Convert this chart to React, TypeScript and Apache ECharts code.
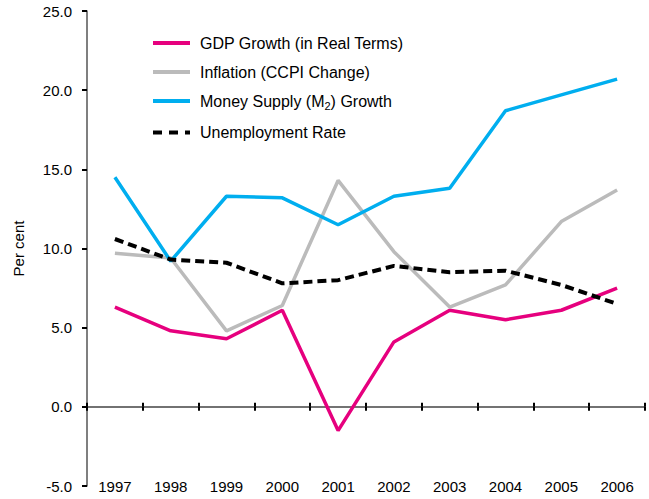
import React, { useEffect, useRef } from "react";
import * as echarts from "echarts";

const years = ["1997", "1998", "1999", "2000", "2001", "2002", "2003", "2004", "2005", "2006"];
const gdpGrowth = [6.3, 4.8, 4.3, 6.1, -1.5, 4.1, 6.1, 5.5, 6.1, 7.5];
const inflation = [9.7, 9.4, 4.8, 6.4, 14.3, 9.8, 6.3, 7.7, 11.7, 13.7];
const moneySupply = [14.5, 9.2, 13.3, 13.2, 11.5, 13.3, 13.8, 18.7, 19.7, 20.7];
const unemployment = [10.6, 9.3, 9.1, 7.8, 8.0, 8.9, 8.5, 8.6, 7.7, 6.5];

const seriesNames = [
  "GDP Growth (in Real Terms)",
  "Inflation (CCPI Change)",
  "Money Supply (M2) Growth",
  "Unemployment Rate",
];

const FONT = "'Liberation Sans', Arial, sans-serif";
const SOLID_ICON = "path://M0,0h37v4h-37z";
const DASH_ICON = "path://M0,0h9v4h-9z M16,0h9v4h-9z M32,0h5v4h-5z";

export default function App() {
  const ref = useRef<HTMLDivElement>(null);
  useEffect(() => {
    if (!ref.current) return;
    const chart = echarts.init(ref.current, undefined, { renderer: "svg" });
    const lineSeries = (name: string, data: number[], color: string, extra: any = {}) => ({
      name,
      type: "line",
      data,
      xAxisIndex: 0,
      symbol: "none",
      showSymbol: false,
      lineStyle: { color, width: 3.5, ...extra },
      itemStyle: { color },
      z: 3,
    });
    const tickStyle = { color: "#000", width: 2 };
    chart.setOption({
      animation: false,
      backgroundColor: "#ffffff",
      textStyle: { fontFamily: FONT },
      grid: { left: 87, right: 4, top: 11, bottom: 13, containLabel: false, outerBoundsMode: "none" },
      legend: {
        orient: "vertical",
        left: 148,
        top: 30,
        itemWidth: 37,
        itemHeight: 14,
        itemGap: 13,
        data: seriesNames.map((n, i) => ({ name: n, icon: i === 3 ? DASH_ICON : SOLID_ICON })),
        textStyle: {
          fontFamily: FONT,
          fontSize: 16,
          lineHeight: 16,
          color: "#000",
          padding: [0, 0, 0, 5],
          rich: {
            t: { fontFamily: FONT, fontSize: 16, color: "#000", lineHeight: 16 },
            s: { fontFamily: FONT, fontSize: 11, color: "#000", padding: [10, 0, 0, 0] },
          },
        },
        formatter: (name: string) =>
          name === "Money Supply (M2) Growth" ? "{t|Money Supply (M}{s|2}{t|) Growth}" : name,
      },
      xAxis: [
        {
          type: "category",
          data: years,
          boundaryGap: true,
          position: "bottom",
          axisLine: { show: false, onZero: false },
          axisTick: { show: false },
          axisLabel: { margin: 0, verticalAlign: "middle", fontSize: 15, color: "#000", fontFamily: FONT },
          splitLine: { show: false },
        },
        {
          type: "category",
          data: years,
          boundaryGap: true,
          position: "bottom",
          axisLine: { show: true, onZero: true, onZeroAxisIndex: 0, lineStyle: { color: "#444", width: 1.5 } },
          axisTick: { show: true, length: 4, lineStyle: tickStyle },
          axisLabel: { show: false },
          splitLine: { show: false },
        },
        {
          type: "category",
          data: years,
          boundaryGap: true,
          position: "top",
          axisLine: { show: false, onZero: true, onZeroAxisIndex: 0 },
          axisTick: { show: true, length: 4, lineStyle: tickStyle },
          axisLabel: { show: false },
          splitLine: { show: false },
        },
      ],
      yAxis: {
        type: "value",
        min: -5,
        max: 25,
        interval: 5,
        name: "Per cent",
        nameLocation: "middle",
        nameGap: 61,
        nameTextStyle: { fontSize: 15, color: "#000", fontFamily: FONT },
        axisLine: { show: true, onZero: false, lineStyle: { color: "#555", width: 1.5 } },
        axisTick: { show: true, length: 5, lineStyle: tickStyle },
        axisLabel: {
          margin: 15,
          fontSize: 15,
          color: "#000",
          fontFamily: FONT,
          formatter: (v: number) => v.toFixed(1),
        },
        splitLine: { show: false },
      },
      series: [
        lineSeries(seriesNames[0], gdpGrowth, "#E6007E"),
        lineSeries(seriesNames[1], inflation, "#BBBBBB"),
        lineSeries(seriesNames[2], moneySupply, "#00AEEF"),
        lineSeries(seriesNames[3], unemployment, "#000000", { type: [9, 5], width: 4 }),
      ],
    });
    return () => chart.dispose();
  }, []);
  return <div ref={ref} style={{ width: 649, height: 499, position: "absolute", left: 0, top: 0 }} />;
}
